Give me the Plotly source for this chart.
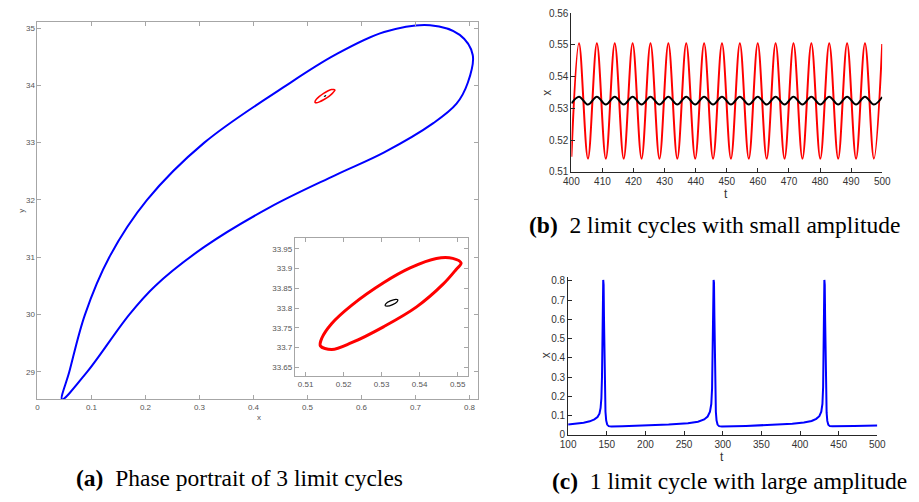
import plotly.graph_objects as go

W, H = 919, 502

# ---------------- Panel (a): phase portrait ----------------
blue_x = [0.0455, 0.059, 0.088, 0.133, 0.203, 0.309, 0.461, 0.551, 0.642, 0.727, 0.782, 0.806,
          0.797, 0.776, 0.733, 0.642, 0.551, 0.430, 0.309, 0.218, 0.170, 0.092, 0.0455]
blue_y = [28.52, 29.00, 30.00, 31.00, 32.00, 33.00, 34.00, 34.53, 34.93, 35.05, 34.88, 34.53,
          34.05, 33.68, 33.34, 32.83, 32.43, 31.87, 31.18, 30.50, 30.00, 29.00, 28.52]

red_cyc_x = [0.5139, 0.5169, 0.5221, 0.5306, 0.5392, 0.5461, 0.5496, 0.5509, 0.5487, 0.5444, 0.5375,
             0.5306, 0.5221, 0.5169, 0.5143, 0.5139]
red_cyc_y = [33.704, 33.695, 33.712, 33.753, 33.803, 33.860, 33.898, 33.914, 33.926, 33.926, 33.902,
             33.865, 33.807, 33.761, 33.724, 33.704]

blk_cyc_x = [0.53425, 0.53375, 0.53230, 0.53115, 0.53095, 0.53145, 0.53290, 0.53405, 0.53425]
blk_cyc_y = [33.8210, 33.8222, 33.8182, 33.8112, 33.8060, 33.8048, 33.8088, 33.8158, 33.8210]

a_xticks = [0, 0.1, 0.2, 0.3, 0.4, 0.5, 0.6, 0.7, 0.8]
a_xlabels = ["0", "0.1", "0.2", "0.3", "0.4", "0.5", "0.6", "0.7", "0.8"]
a_yticks = [29, 30, 31, 32, 33, 34, 35]
in_xticks = [0.51, 0.52, 0.53, 0.54, 0.55]
in_xlabels = ["0.51", "0.52", "0.53", "0.54", "0.55"]
in_yticks = [33.65, 33.70, 33.75, 33.80, 33.85, 33.90, 33.95]
in_ylabels = ["33.65", "33.7", "33.75", "33.8", "33.85", "33.9", "33.95"]

# ---------------- Panel (b): small-amplitude cycles ----------------
b_t = [400, 402.45, 405.33, 408.2, 411.08, 413.95, 416.83, 419.7, 422.58, 425.45, 428.33, 431.2, 434.08,
       436.95, 439.83, 442.7, 445.58, 448.45, 451.33, 454.2, 457.08, 459.95, 462.83, 465.7, 468.58,
       471.45, 474.33, 477.2, 480.08, 482.95, 485.83, 488.7, 491.58, 494.45, 497.33, 500]
b_red = [0.5148, 0.5505, 0.5142, 0.5505, 0.5142, 0.5505, 0.5142, 0.5505, 0.5142, 0.5505, 0.5142, 0.5505,
         0.5142, 0.5505, 0.5142, 0.5505, 0.5142, 0.5505, 0.5142, 0.5505, 0.5142, 0.5505, 0.5142, 0.5505,
         0.5142, 0.5505, 0.5142, 0.5505, 0.5142, 0.5505, 0.5142, 0.5505, 0.5142, 0.5505, 0.5142, 0.5503]
b_blk = [0.5316, 0.5337, 0.5312, 0.5337, 0.5312, 0.5337, 0.5312, 0.5337, 0.5312, 0.5337, 0.5312, 0.5337,
         0.5312, 0.5337, 0.5312, 0.5337, 0.5312, 0.5337, 0.5312, 0.5337, 0.5312, 0.5337, 0.5312, 0.5337,
         0.5312, 0.5337, 0.5312, 0.5337, 0.5312, 0.5337, 0.5312, 0.5337, 0.5312, 0.5337, 0.5312, 0.5336]
b_xticks = [400, 410, 420, 430, 440, 450, 460, 470, 480, 490, 500]
b_yticks = [0.51, 0.52, 0.53, 0.54, 0.55, 0.56]
b_ylabels = ["0.51", "0.52", "0.53", "0.54", "0.55", "0.56"]

# ---------------- Panel (c): large-amplitude cycle ----------------
c_t = [100, 110, 120, 128, 134, 138, 140.5, 142, 143, 143.8, 144.4, 144.9, 145.4, 145.9, 146.4, 147, 147.6,
       148.3, 149.2, 150.5, 152.5, 156, 170, 200, 230, 255, 268, 276, 280.5, 283.5, 285.2, 286.2, 287,
       287.6, 288.2, 288.7, 289.2, 289.8, 290.4, 291.1, 292, 293.3, 295.3, 299, 330, 360, 390, 405, 415,
       421, 425, 427.5, 429, 429.9, 430.5, 431, 431.5, 432, 432.5, 433.1, 433.7, 434.4, 435.3, 436.6,
       438.6, 442, 470, 500]
c_x = [0.054, 0.058, 0.063, 0.070, 0.080, 0.092, 0.110, 0.140, 0.190, 0.300, 0.500, 0.720, 0.805, 0.780,
       0.600, 0.380, 0.220, 0.120, 0.075, 0.053, 0.045, 0.043, 0.044, 0.048, 0.053, 0.060, 0.068, 0.080,
       0.095, 0.120, 0.160, 0.240, 0.420, 0.650, 0.805, 0.790, 0.620, 0.400, 0.220, 0.120, 0.075, 0.053,
       0.045, 0.043, 0.046, 0.050, 0.057, 0.064, 0.072, 0.083, 0.097, 0.120, 0.160, 0.250, 0.450, 0.700,
       0.805, 0.780, 0.600, 0.380, 0.210, 0.115, 0.072, 0.052, 0.045, 0.044, 0.046, 0.048]
c_xticks = [100, 150, 200, 250, 300, 350, 400, 450, 500]
c_yticks = [0, 0.1, 0.2, 0.3, 0.4, 0.5, 0.6, 0.7, 0.8]
c_ylabels = ["0", "0.1", "0.2", "0.3", "0.4", "0.5", "0.6", "0.7", "0.8"]


def px(x):
    return x / W


def py(y):
    return 1 - y / H


fig = go.Figure()
# main (a)
fig.add_trace(go.Scatter(x=blue_x, y=blue_y, mode="lines", line=dict(color="#0000FF", width=2, shape="spline", smoothing=1.0),
                         xaxis="x", yaxis="y", hoverinfo="skip"))
fig.add_trace(go.Scatter(x=red_cyc_x, y=red_cyc_y, mode="lines", line=dict(color="#FF0000", width=1.5, shape="spline"),
                         xaxis="x", yaxis="y", hoverinfo="skip"))
fig.add_trace(go.Scatter(x=blk_cyc_x, y=blk_cyc_y, mode="lines", line=dict(color="#000000", width=1, shape="spline"),
                         xaxis="x", yaxis="y", hoverinfo="skip"))
# inset
fig.add_trace(go.Scatter(x=red_cyc_x, y=red_cyc_y, mode="lines", line=dict(color="#FF0000", width=3, shape="spline"),
                         xaxis="x2", yaxis="y2", hoverinfo="skip"))
fig.add_trace(go.Scatter(x=blk_cyc_x, y=blk_cyc_y, mode="lines", line=dict(color="#000000", width=1.3, shape="spline"),
                         xaxis="x2", yaxis="y2", hoverinfo="skip"))
# (b)
fig.add_trace(go.Scatter(x=b_t, y=b_red, mode="lines", line=dict(color="#FF0000", width=2, shape="spline", smoothing=1.0),
                         xaxis="x3", yaxis="y3", hoverinfo="skip"))
fig.add_trace(go.Scatter(x=b_t, y=b_blk, mode="lines", line=dict(color="#000000", width=2, shape="spline", smoothing=1.0),
                         xaxis="x3", yaxis="y3", hoverinfo="skip"))
# (c)
fig.add_trace(go.Scatter(x=c_t, y=c_x, mode="lines", line=dict(color="#0000FF", width=2),
                         xaxis="x4", yaxis="y4", hoverinfo="skip"))

grayax = dict(showgrid=False, zeroline=False, showline=True, linecolor="#a6a6a6", linewidth=1,
              ticks="inside", ticklen=4, tickcolor="#a6a6a6", mirror="ticks",
              tickfont=dict(family="Liberation Sans, Arial", size=8, color="#555555"))
darkax = dict(showgrid=False, zeroline=False, showline=True, linecolor="#262626", linewidth=1,
              ticks="inside", ticklen=4, tickcolor="#262626",
              tickfont=dict(family="Liberation Sans, Arial", size=10, color="#333333"))

fig.update_layout(
    width=W, height=H, margin=dict(l=0, r=0, t=0, b=0),
    paper_bgcolor="white", plot_bgcolor="white", showlegend=False,
    xaxis=dict(**grayax, domain=[px(30), px(479)], range=[0, 0.816], tickvals=a_xticks, ticktext=a_xlabels, anchor="y"),
    yaxis=dict(**grayax, domain=[py(403), py(16.7)], range=[28.52, 35.10], tickvals=a_yticks, anchor="x"),
    xaxis2=dict(**grayax, domain=[px(292.3), px(469)], range=[0.5072, 0.5528], tickvals=in_xticks, ticktext=in_xlabels, anchor="y2"),
    yaxis2=dict(**grayax, domain=[py(379.3), py(238)], range=[33.627, 33.977], tickvals=in_yticks, ticktext=in_ylabels, anchor="x2"),
    xaxis3=dict(**darkax, domain=[px(574), px(890.7)], range=[400, 500], tickvals=b_xticks, anchor="y3"),
    yaxis3=dict(**darkax, domain=[py(170), py(7.3)], range=[0.51, 0.56], tickvals=b_yticks, ticktext=b_ylabels, anchor="x3"),
    xaxis4=dict(**darkax, domain=[px(570.7), px(885.7)], range=[100, 500], tickvals=c_xticks, anchor="y4"),
    yaxis4=dict(**darkax, domain=[py(439.3), py(277.3)], range=[0, 0.822], tickvals=c_yticks, ticktext=c_ylabels, anchor="x4"),
)

# white background for inset
fig.add_shape(type="rect", xref="paper", yref="paper", x0=px(292.3), x1=px(469), y0=py(379.3), y1=py(238),
              fillcolor="white", line=dict(width=0), layer="below")

ann = []


def label(text, x, y, size, color="#333333", angle=0, family="Liberation Sans, Arial"):
    ann.append(dict(text=text, x=px(x), y=py(y), xref="paper", yref="paper", showarrow=False,
                    xanchor="center", yanchor="middle", textangle=angle,
                    font=dict(family=family, size=size, color=color)))


label("x", 256, 422, 8, "#555555")
label("y", 14, 210, 8, "#555555", angle=-90)
label("t", 732, 193, 12)
label("x", 549, 89, 12, angle=-90)
label("t", 727, 462, 12)
label("x", 549, 358, 12, angle=-90)

serif = "Liberation Serif, Times New Roman, serif"
label("<b>(a)</b>  Phase portrait of 3 limit cycles", 236, 484, 23.5, "#000000", family=serif)
label("<b>(b)</b>  2 limit cycles with small amplitude", 720, 224, 23.5, "#000000", family=serif)
label("<b>(c)</b>  1 limit cycle with large amplitude", 735, 487, 23.5, "#000000", family=serif)

fig.update_layout(annotations=ann)
fig.write_html("out.html")
